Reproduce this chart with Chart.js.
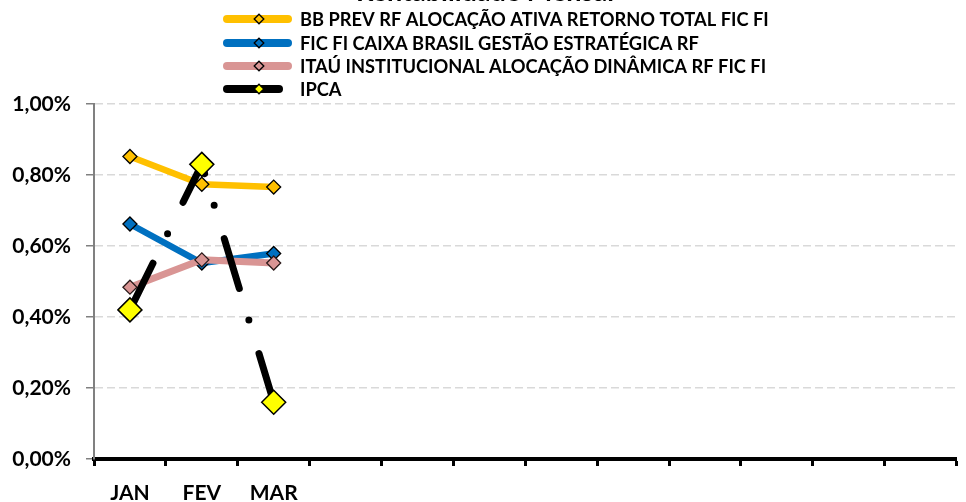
<!DOCTYPE html>
<html><head><meta charset="utf-8">
<script src="https://cdn.jsdelivr.net/npm/chart.js@4.4.1/dist/chart.umd.min.js"></script>
<style>
html,body{margin:0;padding:0;background:#fff;overflow:hidden;width:966px;height:502px;}
#wrap{position:absolute;left:0;top:-30px;width:970px;height:532px;}
</style></head><body>
<div id="wrap"><canvas id="c" width="970" height="532"></canvas></div>
<script>
const months = ['JAN','FEV','MAR','','','','','','','','',''];
const bbPrev = [0.852, 0.774, 0.766];
const caixa  = [0.662, 0.552, 0.579];
const itau   = [0.484, 0.561, 0.552];
const ipca   = [0.42, 0.83, 0.16];
const seriesNames = [
  'BB PREV RF ALOCAÇÃO ATIVA RETORNO TOTAL FIC FI',
  'FIC FI CAIXA BRASIL GESTÃO ESTRATÉGICA RF',
  'ITAÚ INSTITUCIONAL ALOCAÇÃO DINÂMICA RF FIC FI',
  'IPCA'
];
const yMin = 0, yMax = 1.0, yStep = 0.2;
const titleText = 'Rentabilidade Mensal';

const FONT = 'Lato';

const legendPlugin = {
  id: 'excelLegend',
  afterDraw(chart) {
    const ctx = chart.ctx;
    const rows = [49, 73, 96, 119];
    chart.data.datasets.forEach((ds, i) => {
      const y = rows[i];
      ctx.save();
      ctx.strokeStyle = ds.borderColor;
      ctx.lineWidth = 8;
      ctx.lineCap = 'round';
      ctx.setLineDash(ds.borderDash || []);
      ctx.beginPath(); ctx.moveTo(227, y); ctx.lineTo(288, y); ctx.stroke();
      ctx.setLineDash([]);
      const r = 4.8, cx = 259;
      ctx.beginPath();
      ctx.moveTo(cx - r, y); ctx.lineTo(cx, y - r); ctx.lineTo(cx + r, y); ctx.lineTo(cx, y + r);
      ctx.closePath();
      ctx.fillStyle = ds.pointBackgroundColor; ctx.fill();
      ctx.lineWidth = 1.3; ctx.strokeStyle = '#000'; ctx.stroke();
      ctx.fillStyle = '#000';
      ctx.font = 'bold 18.3px ' + FONT;
      ctx.textBaseline = 'middle'; ctx.textAlign = 'left';
      ctx.fillText(ds.label, 300, y + 1);
      ctx.restore();
    });
  }
};

function make() {
  new Chart(document.getElementById('c'), {
    type: 'line',
    data: {
      labels: months,
      datasets: [
        { label: seriesNames[0], data: bbPrev, order: 4,
          borderColor: '#FFC000', backgroundColor: '#FFC000', borderWidth: 6.5,
          pointStyle: 'rectRot', pointRadius: 7, pointBackgroundColor: '#FFC000',
          pointBorderColor: '#000', pointBorderWidth: 1.3, borderCapStyle: 'round', borderJoinStyle: 'round', tension: 0 },
        { label: seriesNames[1], data: caixa, order: 3,
          borderColor: '#0070C0', backgroundColor: '#0070C0', borderWidth: 6.5,
          pointStyle: 'rectRot', pointRadius: 7, pointBackgroundColor: '#0070C0',
          pointBorderColor: '#000', pointBorderWidth: 1.3, borderCapStyle: 'round', borderJoinStyle: 'round', tension: 0 },
        { label: seriesNames[2], data: itau, order: 2,
          borderColor: '#D99594', backgroundColor: '#D99594', borderWidth: 7,
          pointStyle: 'rectRot', pointRadius: 7, pointBackgroundColor: '#D99594',
          pointBorderColor: '#2b1a1a', pointBorderWidth: 1.3, borderCapStyle: 'round', borderJoinStyle: 'round', tension: 0 },
        { label: seriesNames[3], data: ipca, order: 1,
          borderColor: '#000', backgroundColor: '#000', borderWidth: 7,
          borderDash: [52, 33, 0, 35], borderCapStyle: 'round', borderJoinStyle: 'round',
          pointStyle: 'rectRot', pointRadius: 12, pointBackgroundColor: '#FFFF00',
          pointBorderColor: '#000', pointBorderWidth: 1.5, tension: 0 }
      ]
    },
    options: {
      responsive: false,
      animation: false,
      devicePixelRatio: 1,
      layout: { padding: { left: 0, right: 0, top: 0, bottom: 0 } },
      plugins: {
        legend: { display: false },
        tooltip: { enabled: false },
        title: { display: true, text: titleText, color: '#000',
                 font: { family: FONT, size: 27, weight: 'bold', lineHeight: 1.2 },
                 padding: { top: 5.8, bottom: 95.8 } }
      },
      scales: {
        x: {
          offset: true,
          grid: { offset: true, drawOnChartArea: false, drawTicks: true, tickLength: 7,
                  tickColor: '#000', tickWidth: 3 },
          border: { display: true, color: '#000', width: 4 },
          ticks: { color: '#000', font: { family: FONT, size: 21, weight: 'bold' },
                   padding: 15, maxRotation: 0, autoSkip: false },
          afterFit(s) { s.height = 43; }
        },
        y: {
          min: yMin, max: yMax,
          grid: { color: '#D9D9D9', lineWidth: 1.5, drawTicks: true, tickLength: 8,
                  tickColor: '#808080', tickWidth: 1.5, tickBorderDash: [] },
          border: { display: true, color: '#808080', width: 2, dash: [8, 4] },
          ticks: { stepSize: yStep, color: '#000', padding: 15,
                   font: { family: FONT, size: 21, weight: 'bold' },
                   callback: v => v.toFixed(2).replace('.', ',') + '%' },
          afterFit(s) { s.width = 94; }
        }
      }
    },
    plugins: [legendPlugin]
  });
}
if (document.fonts && document.fonts.load) {
  Promise.all([document.fonts.load('bold 16px Lato'), document.fonts.load('bold 20px Lato')]).then(make, make);
} else make();
</script>
</body></html>
